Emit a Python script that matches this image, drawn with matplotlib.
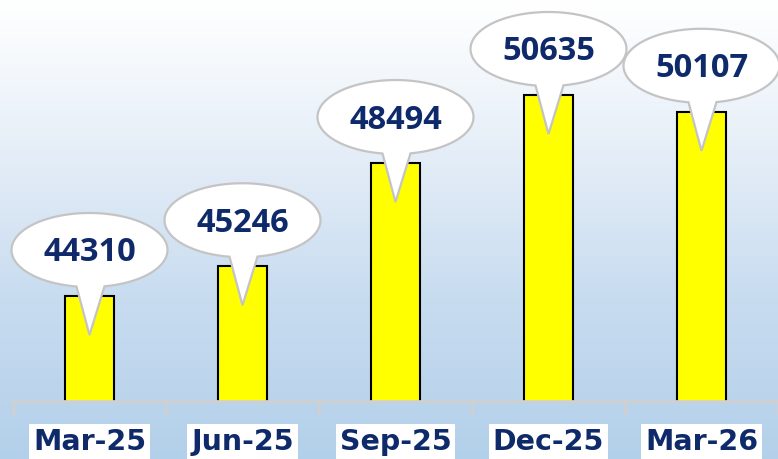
import numpy as np
import matplotlib
matplotlib.use("Agg")
import matplotlib.pyplot as plt
import matplotlib.transforms as mtransforms
from matplotlib.path import Path
from matplotlib.patches import PathPatch
from matplotlib.colors import LinearSegmentedColormap

# Chart data
quarters = ["Mar-25", "Jun-25", "Sep-25", "Dec-25", "Mar-26"]
values = [44310, 45246, 48494, 50635, 50107]

navy = "#0f2a6a"
bar_yellow = "#ffff00"

fig = plt.figure(figsize=(7.78, 4.59), dpi=100)

# Background gradient (white at top to light blue at bottom)
bg = fig.add_axes([0, 0, 1, 1], zorder=0)
bg_cmap = LinearSegmentedColormap.from_list(
    "bg", [(0.0, "#b3d0ea"), (0.35, "#c8dcf0"), (0.6, "#dfeaf6"), (0.85, "#f4f8fc"), (1.0, "#ffffff")]
)
grad = np.linspace(0, 1, 256).reshape(-1, 1)
bg.imshow(grad, aspect="auto", cmap=bg_cmap, origin="lower", extent=[0, 1, 0, 1])
bg.set_axis_off()

W, H = 778, 459
ax = fig.add_axes([13 / W, (H - 401) / H, 765 / W, 401 / H], zorder=1)
ax.patch.set_alpha(0)

x = np.arange(len(quarters))
ax.bar(x, values, width=0.32, color=bar_yellow, edgecolor="black", linewidth=1.5, zorder=2)

ax.set_xlim(-0.5, len(quarters) - 0.5)
ax.set_ylim(41006, 53624)

for s in ["top", "right", "left"]:
    ax.spines[s].set_visible(False)
ax.spines["bottom"].set_color("#d0d0d0")
ax.spines["bottom"].set_linewidth(2)
ax.set_yticks([])
ax.set_xticks(np.arange(-0.5, len(quarters) + 0.5, 1.0))
ax.tick_params(axis="x", length=10, width=2, color="#d0d0d0", labelbottom=False)


def bubble_path(cy=46, a=78, b=37, xl=-13, xr=15, tip=-39):
    # ellipse with a pointer towards (0, tip), in pixel units
    tl = np.arctan2(-np.sqrt(1 - (xl / a) ** 2), xl / a) % (2 * np.pi)
    tr = np.arctan2(-np.sqrt(1 - (xr / a) ** 2), xr / a)
    ts = np.linspace(tr, tl, 120)
    pts = [(a * np.cos(t), cy + b * np.sin(t)) for t in ts]
    pts.append((0, tip))
    pts.append(pts[0])
    codes = [Path.MOVETO] + [Path.LINETO] * (len(pts) - 2) + [Path.CLOSEPOLY]
    return Path(pts, codes)


path = bubble_path()
for xi, v in zip(x, values):
    tr = mtransforms.Affine2D() + mtransforms.ScaledTranslation(xi, v, ax.transData)
    ax.add_patch(PathPatch(path, transform=tr, facecolor="white", edgecolor="#c4c4c4",
                           linewidth=1.6, zorder=3, clip_on=False))
    ax.annotate(str(v), xy=(xi, v), xytext=(0, 43), textcoords="offset pixels",
                ha="center", va="center", fontsize=23.5, fontweight="bold",
                family="Open Sans", color=navy, zorder=4)

for xi, q in zip(x, quarters):
    ax.annotate(q, xy=(xi, 0), xycoords=("data", "axes fraction"), xytext=(0, -41),
                textcoords="offset pixels", ha="center", va="center",
                fontsize=20.5, fontweight="bold", family="DejaVu Sans", color=navy,
                bbox=dict(boxstyle="square,pad=0.14", facecolor="white", edgecolor="none"))

fig.savefig("out.png", dpi=100)
